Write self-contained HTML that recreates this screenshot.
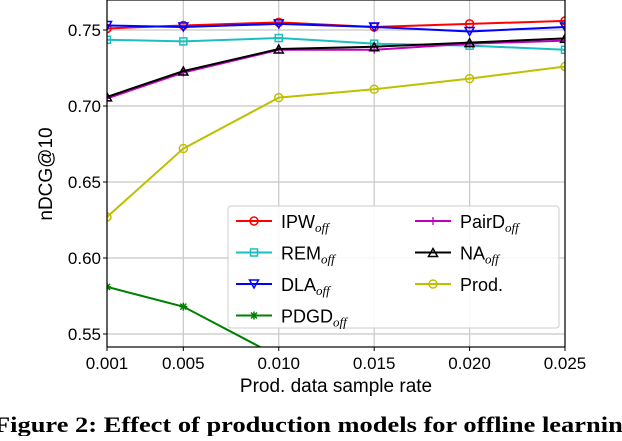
<!DOCTYPE html>
<html><head><meta charset="utf-8"><style>
body{margin:0;background:#fff;width:622px;height:436px;overflow:hidden}
svg text{font-family:"Liberation Sans",sans-serif}
</style></head><body>
<svg id="c" width="622" height="436">
<defs><clipPath id="clip"><rect x="107" y="0" width="458" height="347"/></clipPath></defs>
<g id="grid"></g><g id="series" clip-path="url(#clip)"></g>
<rect x="107" y="0" width="458" height="347" fill="none" stroke="#000" stroke-width="1.2"/>
<g id="axes"></g>
<text x="336" y="392" font-size="19" text-anchor="middle">Prod. data sample rate</text>
<text transform="translate(52,174) rotate(-90)" font-size="19" text-anchor="middle">nDCG@10</text>
<text x="-6" y="432" font-size="22" font-weight="bold" textLength="642" lengthAdjust="spacingAndGlyphs" style="font-family:'Liberation Serif',serif">Figure 2: Effect of production models for offline learning</text>
<g id="legend"></g>
</svg>
<script>
const xs=[0.001,0.005,0.010,0.015,0.020,0.025];
const xTicks=["0.001","0.005","0.010","0.015","0.020","0.025"];
const yTicks=[0.55,0.60,0.65,0.70,0.75];
const names=["IPW","REM","DLA","PDGD","PairD","NA","Prod."];
const ipw=[0.751,0.753,0.755,0.752,0.754,0.756];
const rem=[0.7436,0.7425,0.7447,0.741,0.7397,0.737];
const dla=[0.753,0.752,0.754,0.752,0.749,0.752];
const pdgd=[0.581,0.568,0.535,0.52,0.51,0.50];
const paird=[0.705,0.722,0.737,0.737,0.741,0.743];
const na=[0.706,0.723,0.7375,0.739,0.7417,0.7445];
const prod=[0.627,0.672,0.7055,0.711,0.718,0.726];
const X=v=>107+(v-0.001)/0.024*458;
const Y=v=>30-(v-0.75)*1520;
const NS="http://www.w3.org/2000/svg";
function mk(t,a,p){const e=document.createElementNS(NS,t);for(const k in a)e.setAttribute(k,a[k]);p.appendChild(e);return e;}
const g=document.getElementById('grid'),ax=document.getElementById('axes'),s=document.getElementById('series'),lg=document.getElementById('legend');
xs.forEach((v,i)=>{const l=mk('line',{x1:X(v),x2:X(v),y1:0,y2:347,stroke:'#c8c8c8','stroke-width':1.2},g);

const t=mk('text',{x:X(v),y:369,'font-size':17,'text-anchor':'middle'},ax);t.textContent=xTicks[i];

mk('line',{x1:X(v),x2:X(v),y1:347,y2:351,stroke:'#000'},ax);});
yTicks.forEach(v=>{const l=mk('line',{x1:107,x2:565,y1:Y(v),y2:Y(v),stroke:'#c8c8c8','stroke-width':1.2},g);

const t=mk('text',{x:101,y:Y(v)+6,'font-size':17,'text-anchor':'end'},ax);t.textContent=v.toFixed(2);

mk('line',{x1:103,x2:107,y1:Y(v),y2:Y(v),stroke:'#000'},ax);});
function marker(type,x,y,c,p){
 if(type=='o')return mk('circle',{cx:x,cy:y,r:4,fill:'none',stroke:c,'stroke-width':1.5},p);
 if(type=='s')return mk('rect',{x:x-3.5,y:y-3.5,width:7,height:7,fill:'none',stroke:c,'stroke-width':1.5},p);
 if(type=='v')return mk('path',{d:`M${x-4.5},${y-4}L${x+4.5},${y-4}L${x},${y+4}Z`,fill:'none',stroke:c,'stroke-width':1.5},p);
 if(type=='^')return mk('path',{d:`M${x-4.5},${y+4}L${x+4.5},${y+4}L${x},${y-4}Z`,fill:'none',stroke:c,'stroke-width':1.5},p);
 if(type=='*')return mk('path',{d:`M${x-4},${y}L${x+4},${y}M${x},${y-4}L${x},${y+4}M${x-3},${y-3}L${x+3},${y+3}M${x-3},${y+3}L${x+3},${y-3}`,stroke:c,'stroke-width':1.5},p);
 if(type=='+')return mk('path',{d:`M${x-4},${y}L${x+4},${y}M${x},${y-4}L${x},${y+4}`,stroke:c,'stroke-width':1.3},p);
}
const ser=[[ipw,'#f00','o','ipw'],[rem,'#1bbfbf','s','rem'],[dla,'#00f','v','dla'],[pdgd,'#008000','*','pdgd'],[paird,'#bf00bf','+','paird'],[na,'#000','^','na'],[prod,'#bfbf00','o','prod']];
[3,6,1,4,5,0,2].forEach(k=>{const [d,c,m,n]=ser[k];
 const pl=mk('polyline',{points:d.map((v,i)=>X(xs[i])+','+Y(v)).join(' '),fill:'none',stroke:c,'stroke-width':2},s);
 
 d.forEach((v,i)=>{const e=marker(m,X(xs[i]),Y(v),c,s);});
});
mk('rect',{x:228,y:206,width:331,height:122,rx:3,fill:'#fff','fill-opacity':0.85,stroke:'#ccc'},lg);
const order=[0,1,2,3,4,5,6];
order.forEach(k=>{const col=k<4?0:1,row=k<4?k:k-4;const x0=col?415:236,y=221+row*31.5;const [d,c,m,n]=ser[k];
 const ge=mk('g',{},lg);
 mk('line',{x1:x0,x2:x0+36,y1:y,y2:y,stroke:c,'stroke-width':2},ge);marker(m,x0+18,y,c,ge);
 const t=mk('text',{x:x0+45,y:y+7,'font-size':18},ge);
 if(names[k]=='Prod.')t.textContent='Prod.';else{t.textContent=names[k];const ts=mk('tspan',{'font-size':13,'font-style':'italic',dy:4,style:"font-family:'Liberation Serif',serif"},t);ts.textContent='off';}
});
</script>
</body></html>
